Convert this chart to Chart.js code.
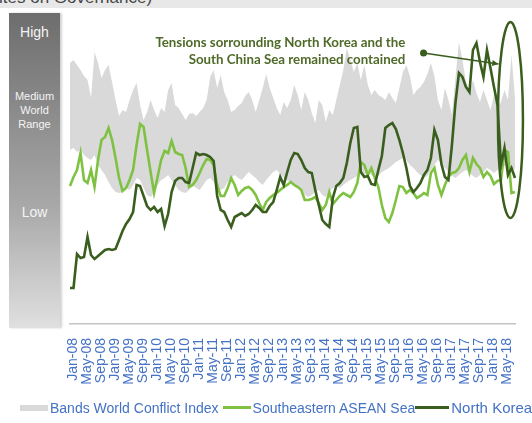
<!DOCTYPE html>
<html>
<head>
<meta charset="utf-8">
<script src="https://cdn.jsdelivr.net/npm/chart.js@4/dist/chart.umd.min.js"></script>
<style>
  body { margin: 0; width: 532px; height: 423px; overflow: hidden; background: #fff; position: relative; font-family: "Liberation Sans", Arial, sans-serif; }
  #topStrip { position: absolute; left: 0; top: 0; width: 532px; height: 8px; background: #e8e8e8; overflow: hidden; }
  #topStrip span { position: absolute; left: -1px; top: -12px; font-size: 17px; color: #454545; white-space: nowrap; }
  #scaleBar { position: absolute; left: 9px; top: 13px; width: 51px; height: 315px; background: linear-gradient(#6d6d6d, #a9a9a9 62%, #e0e0e0); box-shadow: 2px 0 2px rgba(0,0,0,0.18); color: #f4f4f4; text-align: center; }
  #scaleBar div { position: absolute; left: 0; width: 51px; }
  .big { font-size: 14px; line-height: 16px; }
  .mid { font-size: 11px; line-height: 14px; }
  #chartWrap { position: absolute; left: 0; top: 0; width: 532px; height: 423px; }
  #legend { position: absolute; left: 20px; top: 399px; display: flex; align-items: center; white-space: nowrap; font-size: 14px; color: #4472c4; }
  #legend .box { width: 28px; height: 6px; background: #d9d9d9; margin-right: 2px; }
  #legend .ln { height: 3px; margin-right: 2px; }
</style>
</head>
<body>
<div id="topStrip"><span>ites on Governance)</span></div>
<div id="scaleBar">
  <div class="big" style="top:11px">High</div>
  <div class="mid" style="top:76px">Medium<br>World<br>Range</div>
  <div class="big" style="top:191px">Low</div>
</div>
<div id="chartWrap"><canvas id="conflictChart" width="532" height="423"></canvas></div>
<div id="legend">
  <span class="box"></span><span style="margin-right:4px">Bands World Conflict Index</span>
  <span class="ln" style="width:28px;background:#7fc241"></span><span>Southeastern ASEAN Sea</span>
  <span class="ln" style="width:34px;background:#3a5e1d"></span><span style="font-size:15px">North Korea</span>
</div>
<script>
// monthly index, Jan-08 .. Aug-18
const monthNames = ['Jan', 'Feb', 'Mar', 'Apr', 'May', 'Jun', 'Jul', 'Aug', 'Sep', 'Oct', 'Nov', 'Dec'];
const years = ['08', '09', '10', '11', '12', '13', '14', '15', '16', '17', '18'];
const lastMonthIndex = 7; // Aug-18

var months = [];
years.forEach(function (yr, yi) {
  monthNames.forEach(function (m, mi) {
    if (yi < years.length - 1 || mi <= lastMonthIndex) months.push(m + '-' + yr);
  });
});

const bandLow = [
  174, 176, 172, 174, 169, 166, 164, 169, 159, 154, 149, 142, 136, 132, 131, 132,
  136, 134, 139, 146, 144, 136, 129, 127, 131, 139, 144, 146, 149, 144, 139, 134,
  132, 131, 134, 139, 136, 134, 139, 144, 146, 142, 137, 134, 136, 142, 146, 149,
  146, 144, 148, 152, 149, 146, 142, 139, 144, 148, 152, 154, 150, 146, 144, 141,
  139, 138, 134, 129, 127, 129, 132, 134, 129, 127, 132, 136, 138, 136, 139, 142,
  144, 146, 148, 150, 149, 152, 149, 146, 148, 152, 154, 156, 159, 162, 164, 166,
  164, 159, 156, 152, 149, 146, 148, 154, 159, 164, 161, 156, 152, 148, 146, 149,
  152, 154, 151, 148, 146, 149, 152, 156, 154, 151, 154, 156, 158, 159, 156, 154
];

const bandHigh = [
  261, 264, 259, 254, 248, 244, 226, 272, 261, 246, 254, 259, 242, 224, 208, 214,
  212, 224, 234, 241, 219, 204, 212, 224, 214, 206, 216, 212, 234, 241, 219, 216,
  210, 204, 210, 211, 208, 212, 216, 224, 247, 254, 236, 249, 232, 224, 212, 214,
  218, 221, 228, 232, 224, 212, 224, 236, 250, 236, 226, 216, 209, 222, 216, 224,
  239, 229, 214, 232, 224, 211, 201, 224, 219, 202, 214, 209, 224, 239, 254, 276,
  264, 252, 261, 244, 259, 239, 229, 234, 229, 227, 224, 232, 226, 221, 236, 252,
  259, 248, 229, 234, 237, 242, 250, 261, 248, 224, 214, 236, 224, 209, 246, 282,
  264, 242, 232, 244, 231, 222, 234, 224, 214, 229, 216, 222, 234, 224, 269, 226
];

const aseanSea = [
  138, 147, 154, 171, 144, 141, 154, 137, 164, 184, 187, 196, 184, 166, 146, 133,
  136, 144, 154, 179, 200, 197, 174, 152, 131, 147, 164, 173, 171, 183, 172, 170,
  169, 156, 137, 139, 144, 151, 159, 165, 164, 159, 139, 128, 128, 136, 146, 139,
  129, 133, 136, 137, 134, 129, 121, 114, 122, 126, 129, 131, 134, 137, 139, 142,
  139, 137, 134, 124, 124, 125, 127, 121, 114, 119, 132, 120, 124, 128, 131, 129,
  127, 132, 141, 162, 159, 149, 156, 146, 137, 119, 106, 102, 111, 124, 138, 137,
  131, 134, 131, 126, 128, 131, 129, 151, 156, 139, 129, 139, 147, 151, 152, 156,
  164, 169, 152, 166, 160, 156, 147, 152, 148, 140, 143, 144, 174, 172, 131, 132
];

const northKorea = [
  36, 36, 70, 66, 67, 87, 69, 65, 68, 71, 74, 75, 74, 75, 84, 93,
  100, 105, 112, 139, 138, 128, 118, 114, 117, 112, 115, 98, 110, 132, 143, 146,
  146, 142, 141, 156, 171, 169, 170, 169, 167, 163, 128, 114, 112, 104, 97, 107,
  109, 111, 108, 110, 114, 119, 116, 112, 112, 118, 122, 134, 147, 139, 152, 164,
  171, 170, 164, 156, 152, 151, 134, 119, 104, 100, 97, 126, 138, 141, 146, 161,
  181, 196, 197, 152, 147, 148, 140, 139, 154, 168, 196, 199, 201, 195, 184, 171,
  156, 138, 132, 136, 141, 149, 154, 166, 194, 184, 160, 147, 144, 179, 221, 251,
  247, 237, 232, 274, 281, 262, 247, 274, 256, 237, 219, 159, 176, 149, 156, 146
];

// callout, in data units (month index, index value)
const note = {
  lines: ['Tensions sorrounding North Korea and the', 'South China Sea remained contained'],
  textRight: 95.7, textY: [281, 264],
  dot: [100.9, 271], arrowTip: [122.3, 260],
  ellipseCenter: [125.7, 204], ellipseRx: 12.5, ellipseRy: 98
};

const darkGreen = '#3a5e1d';
const lightGreen = '#7fc241';
const noteGreen = '#4f6a28';

var calloutPlugin = {
  id: 'callout',
  afterDatasetsDraw: function (chart) {
    var ctx = chart.ctx;
    var xs = chart.scales.x, ys = chart.scales.y;
    ctx.save();
    // text
    ctx.fillStyle = noteGreen;
    ctx.font = 'bold 13.3px Lato, "Liberation Sans", sans-serif';
    ctx.textAlign = 'right';
    ctx.textBaseline = 'middle';
    note.lines.forEach(function (t, i) {
      ctx.fillText(t, xs.getPixelForValue(note.textRight), ys.getPixelForValue(note.textY[i]));
    });
    // connector with dot and arrow
    var x1 = xs.getPixelForValue(note.dot[0]), y1 = ys.getPixelForValue(note.dot[1]);
    var x2 = xs.getPixelForValue(note.arrowTip[0]), y2 = ys.getPixelForValue(note.arrowTip[1]);
    ctx.strokeStyle = darkGreen;
    ctx.fillStyle = darkGreen;
    ctx.lineWidth = 1.5;
    ctx.beginPath();
    ctx.arc(x1, y1, 3.5, 0, Math.PI * 2);
    ctx.fill();
    ctx.beginPath();
    ctx.moveTo(x1, y1);
    ctx.lineTo(x2, y2);
    ctx.stroke();
    var ang = Math.atan2(y2 - y1, x2 - x1);
    ctx.beginPath();
    ctx.moveTo(x2, y2);
    ctx.lineTo(x2 - 7 * Math.cos(ang - 0.45), y2 - 7 * Math.sin(ang - 0.45));
    ctx.lineTo(x2 - 7 * Math.cos(ang + 0.45), y2 - 7 * Math.sin(ang + 0.45));
    ctx.closePath();
    ctx.fill();
    // ellipse round the last months
    ctx.lineWidth = 2.5;
    ctx.beginPath();
    ctx.ellipse(xs.getPixelForValue(note.ellipseCenter[0]), ys.getPixelForValue(note.ellipseCenter[1]),
      note.ellipseRx, note.ellipseRy, 0, 0, Math.PI * 2);
    ctx.stroke();
    ctx.restore();
  }
};

document.addEventListener('DOMContentLoaded', function () {
  var ctx = document.getElementById('conflictChart').getContext('2d');
  new Chart(ctx, {
    type: 'line',
    data: {
      labels: months,
      datasets: [
        {
          label: 'North Korea',
          data: northKorea,
          borderColor: darkGreen,
          borderWidth: 2.6,
          pointRadius: 0,
          tension: 0,
          fill: false,
          order: 1
        },
        {
          label: 'Southeastern ASEAN Sea',
          data: aseanSea,
          borderColor: lightGreen,
          borderWidth: 2.6,
          pointRadius: 0,
          tension: 0,
          fill: false,
          order: 2
        },
        {
          label: 'band low',
          data: bandLow,
          borderColor: 'rgba(0,0,0,0)',
          borderWidth: 0,
          pointRadius: 0,
          fill: false,
          order: 4
        },
        {
          label: 'Bands World Conflict Index',
          data: bandHigh,
          borderColor: 'rgba(0,0,0,0)',
          backgroundColor: '#d9d9d9',
          borderWidth: 0,
          pointRadius: 0,
          fill: '-1',
          order: 3
        }
      ]
    },
    options: {
      responsive: false,
      animation: false,
      layout: { padding: { left: 70, right: 17, top: 15, bottom: 0 } },
      plugins: {
        legend: { display: false },
        tooltip: { enabled: false }
      },
      scales: {
        x: {
          grid: { display: false },
          border: { display: true, color: '#c4c4c4', width: 1.5 },
          afterFit: function (axis) { axis.height = 99; },
          ticks: {
            autoSkip: false,
            minRotation: 90,
            maxRotation: 90,
            padding: 6,
            labelOffset: 3,
            color: '#4472c4',
            font: { family: 'Liberation Sans', size: 14 },
            callback: function (value, index) {
              return index % 4 === 0 ? this.getLabelForValue(value) : null;
            }
          }
        },
        y: {
          display: false,
          min: 0,
          max: 309
        }
      }
    },
    plugins: [calloutPlugin]
  });
});
</script>
</body>
</html>
